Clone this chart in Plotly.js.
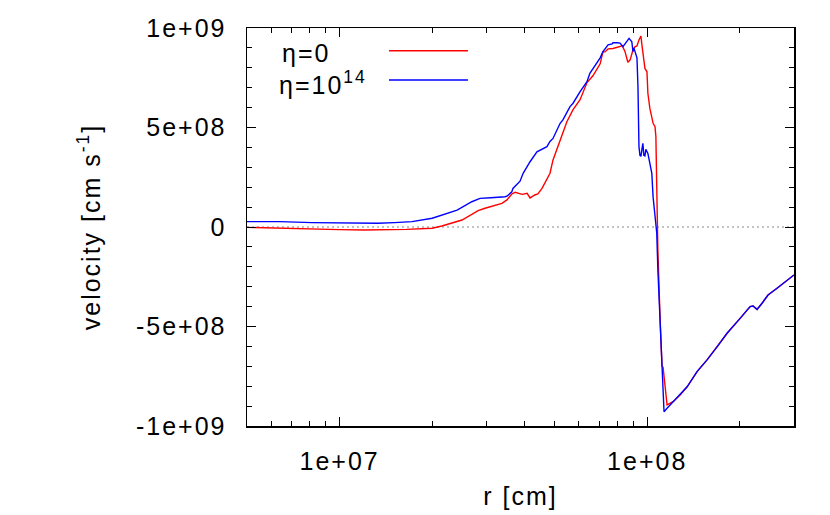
<!DOCTYPE html>
<html>
<head>
<meta charset="utf-8">
<script src="https://cdn.plot.ly/plotly-3.0.1.min.js"></script>
<style>
  html, body { margin: 0; padding: 0; background: #fff; }
  #chart { width: 830px; height: 515px; }
  .xtick text, .ytick text, .g-xtitle text, .g-ytitle text, .annotation-text { letter-spacing: 2px; }
</style>
</head>
<body>
<div id="chart"></div>
<script>
// ---- data ----
const seriesNames = ["η=0", "η=10<sup>14</sup>"];

// eta = 0 (red)
const rEta0 = [5.0e6, 5.5e6, 6.4e6, 7.5e6, 8.6e6, 1.0e7, 1.2e7, 1.35e7, 1.55e7, 1.65e7,
  2.0e7, 2.15e7, 2.5e7, 2.82e7, 2.97e7, 3.1e7, 3.37e7, 3.5e7, 3.63e7, 3.72e7,
  3.86e7, 3.92e7, 4.07e7, 4.16e7, 4.31e7, 4.41e7, 4.55e7, 4.65e7, 4.76e7, 4.83e7,
  4.94e7, 5.21e7, 5.32e7, 5.48e7, 5.74e7, 6.05e7, 6.37e7, 6.66e7, 7.03e7, 7.18e7,
  7.29e7, 7.46e7, 7.74e7, 8.0e7, 8.3e7, 8.47e7, 8.65e7, 8.8e7, 8.91e7, 8.99e7,
  9.12e7, 9.26e7, 9.40e7, 9.54e7, 9.61e7, 9.68e7, 9.83e7, 9.98e7, 1.005e8, 1.02e8,
  1.035e8, 1.045e8, 1.06e8, 1.067e8, 1.074e8, 1.078e8, 1.083e8, 1.101e8, 1.117e8, 1.126e8,
  1.134e8, 1.16e8, 1.213e8, 1.279e8, 1.348e8, 1.452e8, 1.565e8, 1.687e8, 1.818e8, 2.004e8,
  2.16e8, 2.208e8, 2.275e8, 2.362e8, 2.47e8, 2.642e8, 2.848e8, 3.0e8];
const vEta0 = [-2e6, -3e6, -6e6, -8e6, -1.0e7, -1.3e7, -1.5e7, -1.5e7, -1.4e7, -1.2e7,
  -6.5e6, 5e6, 3.5e7, 8.2e7, 9.4e7, 1.02e8, 1.19e8, 1.36e8, 1.66e8, 1.74e8,
  1.66e8, 1.64e8, 1.69e8, 1.46e8, 1.61e8, 1.66e8, 1.94e8, 2.2e8, 2.53e8, 2.7e8,
  3.37e8, 4.37e8, 4.71e8, 5.29e8, 5.9e8, 6.4e8, 7.26e8, 7.6e8, 8.2e8, 8.81e8,
  8.8e8, 8.95e8, 8.97e8, 9.03e8, 9.1e8, 8.81e8, 8.28e8, 8.4e8, 8.64e8, 8.9e8,
  9.05e8, 9.1e8, 9.4e8, 9.6e8, 9.15e8, 8.75e8, 7.97e8, 7.8e8, 6.72e8, 5.96e8,
  5.54e8, 5.21e8, 5.04e8, 4.54e8, 2.0e8, 0, -1.2e8, -4.6e8, -7.0e8, -7.05e8,
  -7.6e8, -8.94e8, -8.78e8, -8.44e8, -8.03e8, -7.27e8, -6.68e8, -6.02e8, -5.34e8, -4.59e8,
  -4.0e8, -3.97e8, -4.14e8, -3.83e8, -3.42e8, -3.08e8, -2.66e8, -2.41e8];

// eta = 1e14 (blue)
const rEta14 = [5.0e6, 6.4e6, 8.13e6, 1.04e7, 1.33e7, 1.51e7, 1.72e7, 2.0e7, 2.32e7, 2.41e7,
  2.69e7, 2.86e7, 3.1e7, 3.27e7, 3.45e7, 3.5e7, 3.63e7, 3.66e7, 3.86e7, 3.95e7,
  4.16e7, 4.38e7, 4.48e7, 4.58e7, 4.72e7, 4.83e7, 4.94e7, 5.21e7, 5.32e7, 5.61e7,
  5.74e7, 6.05e7, 6.37e7, 6.51e7, 7.03e7, 7.18e7, 7.46e7, 7.69e7, 7.74e7, 7.98e7,
  8.16e7, 8.34e7, 8.59e7, 8.73e7, 8.91e7, 8.99e7, 9.05e7, 9.26e7, 9.33e7, 9.40e7,
  9.47e7, 9.54e7, 9.61e7, 9.68e7, 9.75e7, 9.83e7, 9.9e7, 1.005e8, 1.02e8, 1.035e8,
  1.045e8, 1.06e8, 1.074e8, 1.083e8, 1.101e8, 1.117e8, 1.134e8, 1.16e8, 1.213e8, 1.279e8,
  1.348e8, 1.452e8, 1.565e8, 1.687e8, 1.818e8, 2.004e8, 2.16e8, 2.208e8, 2.275e8, 2.362e8,
  2.47e8, 2.642e8, 2.848e8, 3.0e8];
const vEta14 = [2.7e7, 2.7e7, 2.2e7, 1.9e7, 1.9e7, 2.2e7, 2.7e7, 4.4e7, 7.7e7, 8.5e7,
  1.27e8, 1.44e8, 1.47e8, 1.48e8, 1.52e8, 1.55e8, 1.77e8, 1.94e8, 2.3e8, 2.7e8,
  3.28e8, 3.78e8, 3.87e8, 3.95e8, 4.04e8, 4.3e8, 4.45e8, 5.21e8, 5.38e8, 6.05e8,
  6.22e8, 6.8e8, 7.3e8, 7.72e8, 8.5e8, 8.81e8, 9.15e8, 9.2e8, 9.26e8, 9.26e8,
  9.24e8, 9.06e8, 9.36e8, 9.48e8, 9.31e8, 8.81e8, 9.0e8, 8.5e8, 7.05e8, 4.04e8,
  3.6e8, 3.55e8, 3.9e8, 4.2e8, 3.6e8, 3.57e8, 3.9e8, 3.7e8, 3.2e8, 2.7e8,
  1.5e8, 4e7, -3e7, -2.16e8, -4.67e8, -7.19e8, -9.28e8, -9.11e8, -8.78e8, -8.44e8,
  -8.03e8, -7.27e8, -6.68e8, -6.02e8, -5.34e8, -4.59e8, -4.0e8, -3.97e8, -4.14e8, -3.83e8,
  -3.42e8, -3.08e8, -2.66e8, -2.41e8];

// axes
const xRange = [5e6, 3e8];
const xTickVals = [1e7, 1e8];
const xTickText = ["1e+07", "1e+08"];
const xMinorVals = [6e6, 7e6, 8e6, 9e6, 2e7, 3e7, 4e7, 5e7, 6e7, 7e7, 8e7, 9e7, 2e8, 3e8];
const yRange = [-1e9, 1e9];
const yTickVals = [-1e9, -5e8, 0, 5e8, 1e9];
const yTickText = ["-1e+09", "-5e+08", "0", "5e+08", "1e+09"];
const xTitle = "r [cm]";
const yTitle = "velocity [cm s<sup>-1</sup>]";

// ---- plot ----
const FONT = "Liberation Sans, Arial, Helvetica, sans-serif";
const traces = [
  { x: rEta0, y: vEta0, type: "scatter", mode: "lines", name: seriesNames[0],
    line: { color: "#ff0000", width: 1.4 }, showlegend: false },
  { x: rEta14, y: vEta14, type: "scatter", mode: "lines", name: seriesNames[1],
    line: { color: "#0000ff", width: 1.4 }, showlegend: false }
];

const axisCommon = {
  showgrid: false, zeroline: false, showline: true, linecolor: "#000", linewidth: 1.5,
  mirror: "allticks", ticks: "inside", ticklen: 9, tickwidth: 1, tickcolor: "#000",
  tickfont: { family: FONT, size: 25, color: "#000" }
};

const layout = {
  width: 830, height: 515,
  margin: { l: 247, r: 36, t: 28, b: 89, pad: 0 },
  paper_bgcolor: "#fff", plot_bgcolor: "#fff",
  font: { family: FONT, color: "#000" },
  xaxis: Object.assign({}, axisCommon, {
    type: "log", range: [Math.log10(xRange[0]), Math.log10(xRange[1])],
    tickmode: "array", tickvals: xTickVals, ticktext: xTickText,
    ticklabelstandoff: 12,
    minor: { tickmode: "array", tickvals: xMinorVals, ticks: "inside", ticklen: 5,
             tickwidth: 1, tickcolor: "#000", showgrid: false },
    title: { text: xTitle, font: { family: FONT, size: 25, color: "#000" }, standoff: 14 }
  }),
  yaxis: Object.assign({}, axisCommon, {
    range: yRange, tickmode: "array", tickvals: yTickVals, ticktext: yTickText,
    ticklabelstandoff: 14,
    minor: { tickmode: "linear", tick0: 0, dtick: 1e8, ticks: "inside", ticklen: 5,
             tickwidth: 1, tickcolor: "#000", showgrid: false },
    title: { text: yTitle, font: { family: FONT, size: 25, color: "#000" }, standoff: 28 }
  }),
  shapes: [
    { type: "line", xref: "paper", x0: 0, x1: 1, yref: "y", y0: 0, y1: 0, layer: "below",
      line: { color: "#888", width: 1, dash: "2px,3px" } },
    { type: "line", xref: "paper", x0: 0.2596, x1: 0.404, yref: "paper", y0: 0.943, y1: 0.943,
      line: { color: "#ff0000", width: 1.4 } },
    { type: "line", xref: "paper", x0: 0.2596, x1: 0.404, yref: "paper", y0: 0.8693, y1: 0.8693,
      line: { color: "#0000ff", width: 1.4 } }
  ],
  annotations: [
    { xref: "paper", yref: "paper", x: 0.0603, y: 0.938, xanchor: "left", yanchor: "middle",
      text: seriesNames[0], showarrow: false, font: { family: FONT, size: 25, color: "#000" } },
    { xref: "paper", yref: "paper", x: 0.0548, y: 0.862, xanchor: "left", yanchor: "middle",
      text: seriesNames[1], showarrow: false, font: { family: FONT, size: 25, color: "#000" } }
  ]
};

Plotly.newPlot("chart", traces, layout, { staticPlot: true, displayModeBar: false });
</script>
</body>
</html>
